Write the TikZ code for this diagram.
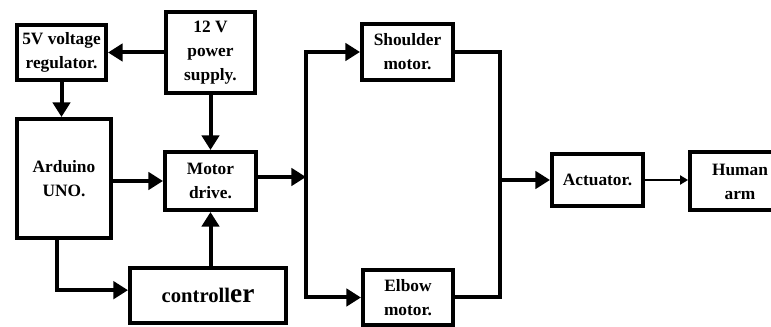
\documentclass[tikz,border=0pt]{standalone}
\usepackage{fontspec}
\setmainfont{Liberation Serif}
\usetikzlibrary{arrows.meta,calc}
\tikzset{
  blk/.style={draw, line width=3pt, inner sep=0pt, align=center,
    font=\rmfamily\fontsize{13}{18}\selectfont\bfseries},
  conn/.style={line width=3pt, -{Triangle[length=11pt,width=13pt]}},
  thin/.style={line width=1.1pt, -{Triangle[length=6pt,width=7pt]}},
  wire/.style={line width=3pt}
}
\begin{document}
\begin{tikzpicture}[x=0.75pt,y=-0.75pt]
\useasboundingbox (0,0) rectangle (771,327);
\node[blk, minimum width=89*0.75pt, minimum height=55*0.75pt] (reg) at (61.5,52.5) {5V voltage\\regulator.};
\node[blk, minimum width=89*0.75pt, minimum height=81*0.75pt] (ps) at (210.5,52.5) {12 V\\power\\supply.};
\node[blk, minimum width=94*0.75pt, minimum height=119*0.75pt] (ard) at (64,178.5) {Arduino\\UNO.};
\node[blk, minimum width=91*0.75pt, minimum height=58*0.75pt] (md) at (210.5,181) {Motor\\drive.};
\node[blk, minimum width=156*0.75pt, minimum height=55*0.75pt] (ctl) at (208,295.5) {\rmfamily\bfseries\fontsize{15.5}{18}\selectfont controll{\fontsize{20.5}{20}\selectfont er}};
\node[blk, minimum width=91*0.75pt, minimum height=56*0.75pt] (sh) at (407.5,52) {Shoulder\\motor.};
\node[blk, minimum width=90*0.75pt, minimum height=55*0.75pt] (el) at (408,297.5) {Elbow\\motor.};
\node[blk, minimum width=91*0.75pt, minimum height=52*0.75pt] (act) at (597.5,180) {Actuator.};
\node[blk, minimum width=100*0.75pt, minimum height=58*0.75pt] (arm) at (740,181.5) {Human\\arm};
\coordinate (split) at (306,177);
\coordinate (join) at (500,180);
\coordinate (ardb) at (57,240);
\draw[conn] (ps.west) -- (reg.east);
\draw[conn] (reg.south) -- (reg.south |- ard.north);
\draw[conn] (ps.south) -- (md.north);
\draw[conn] (ard.east |- md.west) -- (md.west);
\draw[conn] (md.south |- ctl.north) -- (md.south);
\draw[conn] (ard.south -| ardb) |- ([yshift=4pt]ctl.west);
\draw[conn] (md.east |- split) -- (split);
\draw[conn] (split) |- (sh.west);
\draw[conn] (split) |- (el.west);
\draw[wire] (sh.east) -| (join) |- (el.east);
\draw[conn] (join) -- (act.west);
\draw[thin] (act.east) -- (act.east -| arm.west);
\end{tikzpicture}
\end{document}
